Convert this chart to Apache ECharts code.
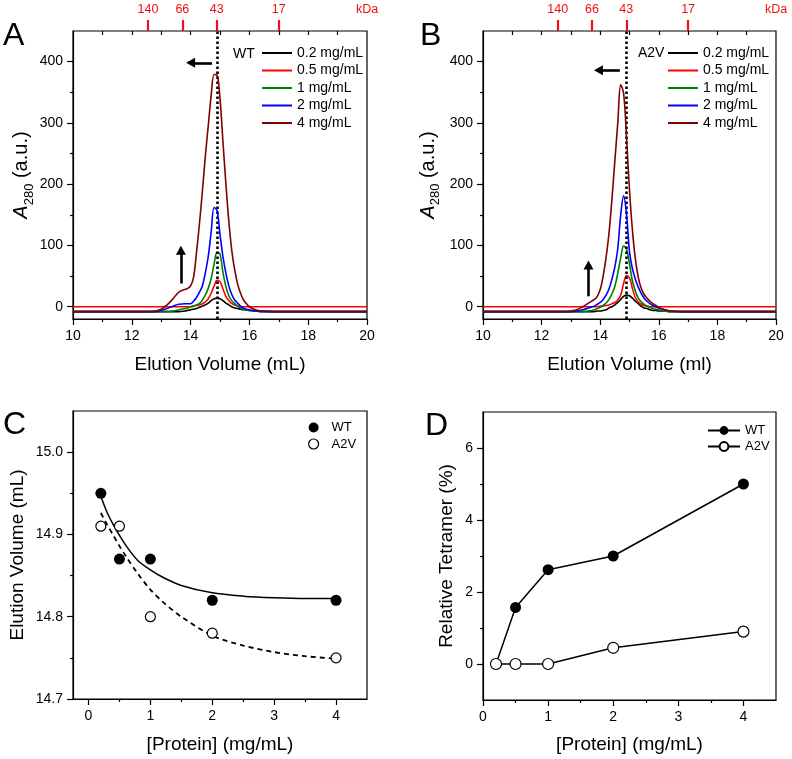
<!DOCTYPE html>
<html><head><meta charset="utf-8">
<script src="https://cdn.jsdelivr.net/npm/echarts@6/dist/echarts.min.js"></script>
<style>html,body{margin:0;padding:0;background:#fff}#c{width:792px;height:759px}</style>
</head><body><div id="c"></div>
<script>
// ---------- Data ----------
const elutionX = [10, 12.5, 12.8, 13.0, 13.2, 13.4, 13.6, 13.8, 13.9, 14.0, 14.1, 14.2, 14.3, 14.4, 14.5, 14.6, 14.7, 14.8, 14.9, 15.0, 15.1, 15.2, 15.3, 15.4, 15.5, 15.6, 15.7, 15.8, 15.9, 16.0, 16.2, 16.4, 17, 18, 20];
const concNames = ['0.2 mg/mL', '0.5 mg/mL', '1 mg/mL', '2 mg/mL', '4 mg/mL'];
// Panel A (WT)
const wt02 = [-8,-8,-8,-8,-8,-8,-8,-7,-6,-5,-4,-3,-1,1,3,6,10,13,14,13,10,6,3,0,-2,-3,-4,-5,-5,-6,-7,-7,-8,-8,-8];
const wt05 = [0,0,0,0,0,0,0,0,0,0,1,2,3,5,8,13,22,34,43,41,29,17,10,5,3,1,0,0,0,0,0,0,0,0,0];
const wt1  = [-8,-8,-8,-8,-8,-7,-5,-3,-2,0,1,3,5,11,19,30,46,70,89,86,56,33,18,10,5,1,-2,-4,-5,-6,-7,-8,-8,-8,-8];
const wt2  = [-8,-8,-8,-6,-3,1,4,5,5,5,9,15,24,34,55,82,122,162,157,118,82,55,34,20,11,6,1,-2,-4,-5,-7,-8,-8,-8,-8];
const wt4  = [-8,-8,-7,-4,3,13,24,28,30,34,48,88,135,188,245,295,345,379,378,340,270,201,140,92,60,37,22,11,5,0,-5,-7,-8,-8,-8];
// Panel B (A2V)
const av02 = [-8,-8,-8,-8,-8,-8,-8,-8,-7,-7,-6,-5,-2,0,3,7,12,17,19,18,14,9,5,1,-2,-3,-5,-6,-6,-7,-7,-8,-8,-8,-8];
const av05 = [0,0,0,0,0,0,0,0,0,1,1,2,3,5,7,11,19,38,51,47,30,15,8,4,2,1,0,0,0,0,0,0,0,0,0];
const av1  = [-8,-8,-8,-8,-8,-8,-7,-5,-3,-1,2,6,12,21,33,55,80,99,94,70,42,26,14,8,4,1,-1,-3,-4,-5,-7,-8,-8,-8,-8];
const av2  = [-8,-8,-8,-8,-7,-5,-2,1,4,7,12,19,29,45,65,95,150,181,150,90,62,45,32,22,14,9,5,2,0,-2,-5,-7,-8,-8,-8];
const av4  = [-8,-8,-8,-7,-5,0,6,12,17,28,50,80,120,175,238,300,362,348,275,190,125,78,48,30,20,14,9,5,2,-1,-5,-7,-8,-8,-8];
// Molecular weight markers (top axis)
const kdaPos = [12.55, 13.72, 14.89, 17.0];
const kdaLabels = ['140', '66', '43', '17'];
// Annotations
const dottedX = 14.9;
const arrowA = { left: [[14.73, 398], [14.0, 398]], up: [[13.67, 38], [13.67, 92]] };
const arrowB = { left: [[14.67, 386], [13.94, 386]], up: [[13.6, 17], [13.6, 68]] };
// Panel C
const protein = [0.2, 0.5, 1, 2, 4];
const elutWT = [14.95, 14.87, 14.87, 14.82, 14.82];
const elutA2V = [14.91, 14.91, 14.80, 14.78, 14.75];
const fitX = [0.2, 0.3, 0.4, 0.5, 0.6, 0.8, 1.0, 1.2, 1.5, 2.0, 2.5, 3.0, 3.5, 4.0];
const fitWT = [14.946, 14.927, 14.912, 14.899, 14.887, 14.868, 14.857, 14.848, 14.838, 14.829, 14.825, 14.823, 14.822, 14.822];
const fitA2V = [14.926, 14.912, 14.899, 14.886, 14.874, 14.852, 14.833, 14.818, 14.800, 14.777, 14.765, 14.757, 14.752, 14.749];
// Panel D
const tetWT = [0, 1.57, 2.62, 3.0, 5.0];
const tetA2V = [0, 0, 0, 0.45, 0.9];
// Tick labels
const elutionTicks = [10, 12, 14, 16, 18, 20];
const a280Ticks = [0, 100, 200, 300, 400];
const proteinTicks = [0, 1, 2, 3, 4];
const elutVolTicks = [14.7, 14.8, 14.9, 15.0];
const tetTicks = [0, 2, 4, 6];

// ---------- Chart ----------
const FONT = '"Liberation Sans", Arial, sans-serif';
const lineColors = ['#000000', '#ff0000', '#008000', '#0000ff', '#800000'];
const pairs = (xs, ys) => xs.map((x, i) => [x, ys[i]]);
const chart = echarts.init(document.getElementById('c'), null, { renderer: 'canvas' });

const grids = [
  { left: 73, top: 31, width: 294, height: 288 },
  { left: 483, top: 31, width: 293, height: 288 },
  { left: 73, top: 411, width: 294, height: 288 },
  { left: 483, top: 412, width: 293, height: 288 }
].map(g => Object.assign({ show: true, borderColor: '#000', borderWidth: 1.2, backgroundColor: 'transparent' }, g));

function baseAxis(o) {
  return Object.assign({
    type: 'value', splitLine: { show: false },
    axisLine: { show: false, onZero: false },
    axisTick: { show: false }, axisLabel: { show: false }
  }, o);
}
function majorAxis(gridIndex, position, min, max, ticks, name, nameGap, fmt) {
  return baseAxis({
    gridIndex, position, min, max,
    axisLine: { show: true, onZero: false, lineStyle: { color: '#000', width: 1.2 } },
    axisTick: { show: true, length: 6, customValues: ticks, lineStyle: { color: '#000', width: 1.2 } },
    axisLabel: { show: true, customValues: ticks, margin: 10, fontSize: 14, color: '#000', fontFamily: FONT,
      formatter: fmt || (v => String(v)) },
    name, nameLocation: 'middle', nameGap,
    nameTextStyle: { fontSize: 19, color: '#000', fontFamily: FONT }
  });
}
function minorAxis(gridIndex, position, min, max, ticks, len, inside) {
  return baseAxis({
    gridIndex, position, min, max,
    axisTick: { show: true, inside: !!inside, length: len, customValues: ticks, lineStyle: { color: '#000', width: 1.2 } }
  });
}
function kdaAxis(gridIndex) {
  return baseAxis({
    gridIndex, position: 'top', min: 10, max: 20,
    axisTick: { show: true, length: 11, customValues: kdaPos, lineStyle: { color: '#ee1111', width: 2.2 } },
    axisLabel: { show: true, customValues: kdaPos.concat([20]), margin: 15, fontSize: 12.5, color: '#ee1111', fontFamily: FONT,
      formatter: v => { const i = kdaPos.indexOf(v); return i >= 0 ? kdaLabels[i] : 'kDa'; } }
  });
}

const xAxes = [];
const yAxes = [];
const a280Name = '{i|A}{s|280} (a.u.)';
const a280Rich = { i: { fontStyle: 'italic', fontSize: 20, fontFamily: FONT, color: '#000' },
                   s: { fontSize: 13, lineHeight: 28, verticalAlign: 'bottom', fontFamily: FONT, color: '#000' } };
[0, 1].forEach(g => {
  xAxes.push(majorAxis(g, 'bottom', 10, 20, elutionTicks, g === 0 ? 'Elution Volume (mL)' : 'Elution Volume (ml)', 36));
  xAxes.push(minorAxis(g, 'bottom', 10, 20, [11, 13, 15, 17, 19], 3));
  xAxes.push(minorAxis(g, 'top', 10, 20, [11, 12, 13, 14, 15, 16, 17, 18, 19], 4, true));
  xAxes.push(kdaAxis(g));
  const ya = majorAxis(g, 'left', -20, 450, a280Ticks, a280Name, g === 0 ? 37 : 41);
  ya.nameTextStyle.fontSize = 20;
  ya.nameTextStyle.rich = a280Rich;
  yAxes.push(ya);
  yAxes.push(minorAxis(g, 'left', -20, 450, [50, 150, 250, 350], 3));
});
// Panel C axes  (x index 8,9 ; y index 4,5)
xAxes.push(majorAxis(2, 'bottom', -0.25, 4.5, proteinTicks, '[Protein] (mg/mL)', 36));
xAxes.push(minorAxis(2, 'bottom', -0.25, 4.5, [0.5, 1.5, 2.5, 3.5], 3));
yAxes.push(majorAxis(2, 'left', 14.7, 15.05, elutVolTicks, 'Elution Volume (mL)', 46, v => v.toFixed(1)));
yAxes.push(minorAxis(2, 'left', 14.7, 15.05, [14.75, 14.85, 14.95], 3));
// Panel D axes  (x index 10,11 ; y index 6,7)
xAxes.push(majorAxis(3, 'bottom', 0, 4.5, proteinTicks, '[Protein] (mg/mL)', 35));
xAxes.push(minorAxis(3, 'bottom', 0, 4.5, [0.5, 1.5, 2.5, 3.5], 3));
yAxes.push(majorAxis(3, 'left', -1, 7, tetTicks, 'Relative Tetramer (%)', 27));
yAxes.push(minorAxis(3, 'left', -1, 7, [1, 3, 5], 3));

const series = [];
function chromSeries(g, arrays, arrows) {
  arrays.forEach((ys, i) => {
    const s = {
      type: 'line', name: concNames[i], xAxisIndex: g * 4, yAxisIndex: g * 2,
      data: pairs(elutionX, ys), symbol: 'none', smooth: 0.35,
      lineStyle: { color: lineColors[i], width: 1.6 }, itemStyle: { color: lineColors[i] },
      z: 2 + i
    };
    if (i === arrays.length - 1) {
      s.markLine = {
        silent: true, animation: false, symbol: 'none', label: { show: false },
        emphasis: { disabled: true },
        data: [
          { xAxis: dottedX, symbol: 'none', lineStyle: { color: '#000', width: 2.6, type: [2.4, 2.6] } },
          [ { coord: arrows.left[0], symbol: 'none', lineStyle: { color: '#000', width: 2.6, type: 'solid' } },
            { coord: arrows.left[1], symbol: 'triangle', symbolSize: [10, 9] } ],
          [ { coord: arrows.up[0], symbol: 'none', lineStyle: { color: '#000', width: 2.6, type: 'solid' } },
            { coord: arrows.up[1], symbol: 'triangle', symbolSize: [10, 9] } ]
        ]
      };
    }
    series.push(s);
  });
}
chromSeries(0, [wt02, wt05, wt1, wt2, wt4], arrowA);
chromSeries(1, [av02, av05, av1, av2, av4], arrowB);

// Panel C
series.push({ type: 'line', name: 'WT fit', xAxisIndex: 8, yAxisIndex: 4, data: pairs(fitX, fitWT),
  symbol: 'none', smooth: 0.3, lineStyle: { color: '#000', width: 1.5 }, z: 2 });
series.push({ type: 'line', name: 'A2V fit', xAxisIndex: 8, yAxisIndex: 4, data: pairs(fitX, fitA2V),
  symbol: 'none', smooth: 0.3, lineStyle: { color: '#000', width: 1.8, type: [5, 4] }, z: 2 });
series.push({ type: 'scatter', name: 'WT', xAxisIndex: 8, yAxisIndex: 4, data: pairs(protein, elutWT),
  symbol: 'circle', symbolSize: 11, itemStyle: { color: '#000', opacity: 1 }, z: 4 });
series.push({ type: 'scatter', name: 'A2V', xAxisIndex: 8, yAxisIndex: 4, data: pairs(protein, elutA2V),
  symbol: 'circle', symbolSize: 10, itemStyle: { color: '#fff', borderColor: '#000', borderWidth: 1.2, opacity: 1 }, z: 4 });
// Panel D
series.push({ type: 'line', name: 'WT ', xAxisIndex: 10, yAxisIndex: 6, data: pairs(protein, tetWT),
  symbol: 'circle', symbolSize: 11, showSymbol: true, itemStyle: { color: '#000' },
  lineStyle: { color: '#000', width: 1.5 }, z: 3 });
series.push({ type: 'line', name: 'A2V ', xAxisIndex: 10, yAxisIndex: 6, data: pairs(protein, tetA2V),
  symbol: 'circle', symbolSize: 11, showSymbol: true, itemStyle: { color: '#fff', borderColor: '#000', borderWidth: 1.2 },
  lineStyle: { color: '#000', width: 1.5 }, z: 3 });

const legendText = { fontSize: 14, color: '#000', fontFamily: FONT };
const legends = [
  { left: 257, top: 41, orient: 'vertical', itemWidth: 30, itemHeight: 2, itemGap: 3.5, textStyle: legendText,
    data: concNames.map(n => ({ name: n, icon: 'rect' })), selectedMode: false },
  { left: 663, top: 41, orient: 'vertical', itemWidth: 30, itemHeight: 2, itemGap: 3.5, textStyle: legendText,
    data: concNames.map(n => ({ name: n, icon: 'rect' })), selectedMode: false },
  { left: 303, top: 416, orient: 'vertical', itemWidth: 10, itemHeight: 10, itemGap: 3.5, selectedMode: false,
    textStyle: { fontSize: 13, color: '#000', fontFamily: FONT, padding: [0, 0, 0, 8] },
    data: [ { name: 'WT', icon: 'circle', itemStyle: { color: '#000', opacity: 1 } },
            { name: 'A2V', icon: 'circle', itemStyle: { color: '#fff', borderColor: '#000', borderWidth: 1.2, opacity: 1 } } ] },
  { left: 702, top: 419, orient: 'vertical', itemWidth: 32, itemHeight: 11, itemGap: 3, selectedMode: false,
    textStyle: { fontSize: 13, color: '#000', fontFamily: FONT }, formatter: n => n.trim(),
    data: [ { name: 'WT ' }, { name: 'A2V ' } ] }
];

function label(text, x, y, size) {
  return { type: 'text', left: x, top: y, silent: true,
    style: { text, fontSize: size, fontFamily: FONT, fill: '#000' } };
}
const graphics = [
  label('A', 3, 20, 32), label('B', 420, 20, 32), label('C', 3, 409, 32), label('D', 425, 410, 32),
  label('WT', 233, 47, 14), label('A2V', 638, 46, 14)
];

chart.setOption({
  animation: false,
  backgroundColor: '#fff',
  textStyle: { fontFamily: FONT },
  grid: grids, xAxis: xAxes, yAxis: yAxes, series, legend: legends, graphic: graphics
});
</script></body></html>
